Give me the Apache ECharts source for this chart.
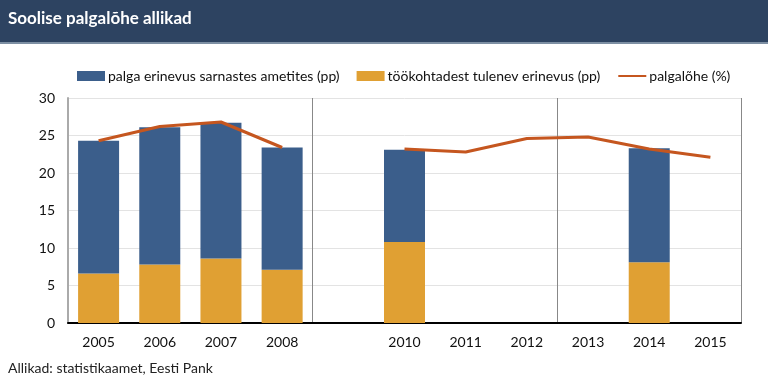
<!DOCTYPE html>
<html><head><meta charset="utf-8">
<script src="https://cdn.jsdelivr.net/npm/echarts@6/dist/echarts.min.js"></script>
<style>html,body{margin:0;padding:0;background:#fff}#c{width:768px;height:378px}</style>
</head><body><div id="c"></div>
<script>
const categories = ['2005','2006','2007','2008','','2010','2011','2012','2013','2014','2015'];
const sameJobGap = [17.7, 18.3, 18.1, 16.3, '-', 12.3, '-', '-', '-', 15.2, '-'];
const jobSortGap = [6.6, 7.8, 8.6, 7.1, '-', 10.8, '-', '-', '-', 8.1, '-'];
const payGap = [24.3, 26.2, 26.8, 23.4, '-', 23.2, 22.8, 24.6, 24.8, 23.2, 22.1];
const yTicks = [0, 5, 10, 15, 20, 25, 30];
const names = ['palga erinevus sarnastes ametites (pp)', 'töökohtadest tulenev erinevus (pp)', 'palgalõhe (%)'];

const font = 'Lato, "Open Sans", sans-serif';
const chart = echarts.init(document.getElementById('c'));
chart.setOption({
  animation: false,
  textStyle: {fontFamily: font},
  graphic: [
    {type: 'rect', left: 0, top: 0, shape: {width: 768, height: 42}, style: {fill: '#2d4361'}},
    {type: 'rect', left: 0, top: 42, shape: {width: 768, height: 2}, style: {fill: '#7d8fa3'}},
    {type: 'text', left: 8, top: 10, style: {text: 'Soolise palgalõhe allikad', fill: '#fff', font: 'bold 17px ' + font}},
    {type: 'text', left: 8, top: 361, style: {text: 'Allikad: statistikaamet, Eesti Pank', fill: '#222', font: '14px ' + font}}
  ],
  legend: {
    top: 64, left: 72, itemWidth: 28, itemHeight: 10, itemGap: 17,
    textStyle: {fontSize: 14, color: '#111', fontFamily: font, padding: [0, 0, 0, -2]},
    data: [{name: names[0], icon: 'rect'}, {name: names[1], icon: 'rect'},
      {name: names[2], itemStyle: {opacity: 0}}]
  },
  grid: {left: 68, right: 27, top: 98, bottom: 55},
  xAxis: {
    type: 'category', data: categories,
    axisLine: {lineStyle: {color: '#000', width: 2}},
    axisTick: {show: false},
    axisLabel: {fontSize: 14, color: '#111', margin: 12, fontFamily: font},
    splitLine: {show: true, interval: function (i) { return i === 4 || i === 8; }, lineStyle: {color: '#888', width: 1}}
  },
  yAxis: {
    type: 'value', min: 0, max: 30, interval: 5,
    axisLine: {show: true, lineStyle: {color: '#aaa', width: 2}},
    axisTick: {show: false},
    axisLabel: {fontSize: 14, color: '#111', margin: 13, fontFamily: font,
      formatter: v => yTicks.includes(v) ? String(v) : ''},
    splitLine: {lineStyle: {color: '#e3e3e3'}}
  },
  series: [
    {name: names[1], type: 'bar', stack: 's', data: jobSortGap, barWidth: 41, itemStyle: {color: '#e0a033'}},
    {name: names[0], type: 'bar', stack: 's', data: sameJobGap, barWidth: 41, itemStyle: {color: '#3b5e8b'}},
    {name: names[2], type: 'line', data: payGap, symbol: 'none', connectNulls: false,
      lineStyle: {color: '#c5561f', width: 3}, itemStyle: {color: '#c5561f'}}
  ]
});
</script></body></html>
